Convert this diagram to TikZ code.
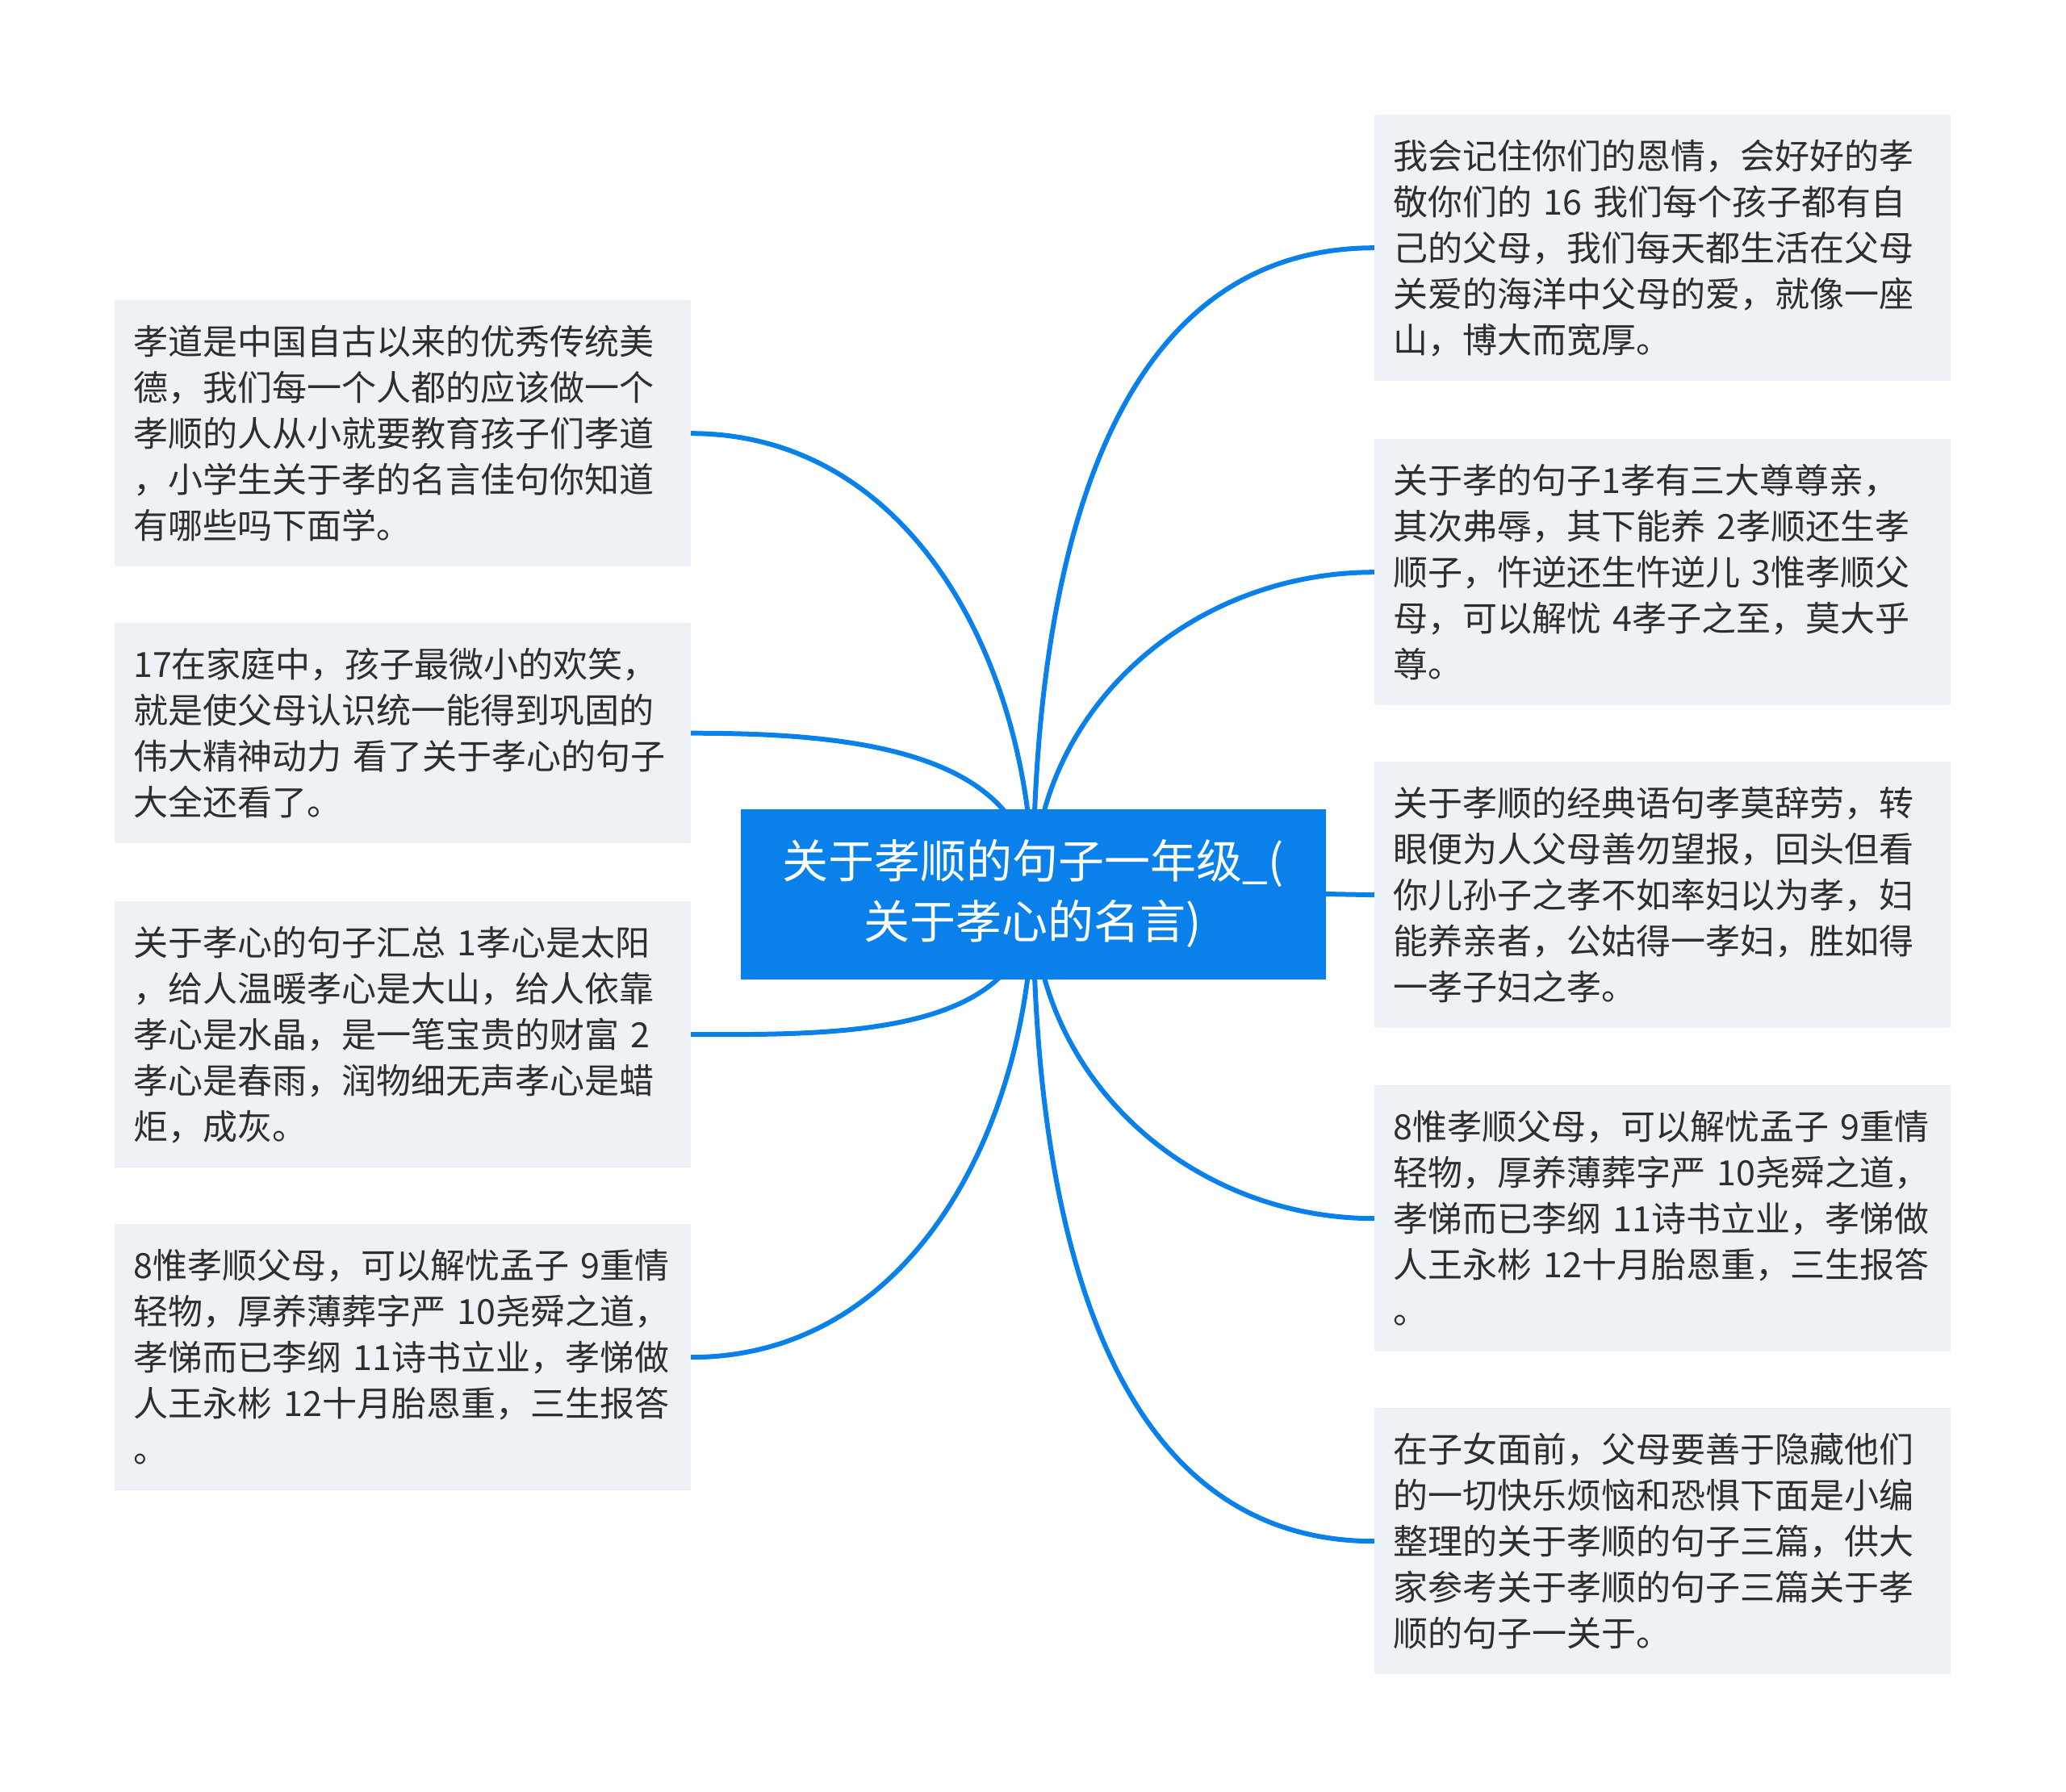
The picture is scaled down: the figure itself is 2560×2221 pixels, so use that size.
\documentclass[tikz,border=0pt]{standalone}
\usepackage{fontspec}
\setmainfont{Noto Sans CJK SC}
\usetikzlibrary{backgrounds}
\definecolor{mainblue}{HTML}{0A80EA}
\definecolor{leafgray}{HTML}{EEF1F5}
\definecolor{textdark}{HTML}{2E2E2E}
\tikzset{
  leaf/.style={fill=leafgray, anchor=north west, minimum width=713.5pt,
    text width=667.5pt, inner xsep=23pt, inner ysep=0pt, align=left,
    text=textdark, font=\fontsize{43pt}{57pt}\selectfont},
  tall/.style={minimum height=330pt},
  short/.style={minimum height=273pt},
  hub/.style={fill=mainblue, text=white, minimum width=725pt, minimum height=211pt,
    inner sep=0pt, align=center, font=\fontsize{57pt}{75pt}\selectfont},
  conn/.style={draw=mainblue, line width=6pt}
}
\begin{document}
\begin{tikzpicture}[x=1pt,y=1pt]
\useasboundingbox (0,0) rectangle (2560,-2221);
\node[hub] (c) at (1280,-1108) {关于孝顺的句子一年级\_(\\关于孝心的名言)};
% left
\node[leaf,tall] (l1) at (142,-372) {孝道是中国自古以来的优秀传统美\\德，我们每一个人都的应该做一个\\孝顺的人从小就要教育孩子们孝道\\，小学生关于孝的名言佳句你知道\\有哪些吗下面学。};
\node[leaf,short] (l2) at (142,-772) {17在家庭中，孩子最微小的欢笑，\\就是使父母认识统一能得到巩固的\\伟大精神动力~看了关于孝心的句子\\大全还看了。};
\node[leaf,tall] (l3) at (142,-1117) {关于孝心的句子汇总~1孝心是太阳\\，给人温暖孝心是大山，给人依靠\\孝心是水晶，是一笔宝贵的财富~2\\孝心是春雨，润物细无声孝心是蜡\\炬，成灰。};
\node[leaf,tall] (l4) at (142,-1517) {8惟孝顺父母，可以解忧孟子~9重情\\轻物，厚养薄葬字严~10尧舜之道，\\孝悌而已李纲~11诗书立业，孝悌做\\人王永彬~12十月胎恩重，三生报答\\。};
% right
\node[leaf,tall] (r1) at (1703,-142) {我会记住你们的恩情，会好好的孝\\敬你们的~16~我们每个孩子都有自\\己的父母，我们每天都生活在父母\\关爱的海洋中父母的爱，就像一座\\山，博大而宽厚。};
\node[leaf,tall] (r2) at (1703,-544) {关于孝的句子1孝有三大尊尊亲，\\其次弗辱，其下能养~2孝顺还生孝\\顺子，忤逆还生忤逆儿~3惟孝顺父\\母，可以解忧~4孝子之至，莫大乎\\尊。};
\node[leaf,tall] (r3) at (1703,-944) {关于孝顺的经典语句孝莫辞劳，转\\眼便为人父母善勿望报，回头但看\\你儿孙子之孝不如率妇以为孝，妇\\能养亲者，公姑得一孝妇，胜如得\\一孝子妇之孝。};
\node[leaf,tall] (r4) at (1703,-1345) {8惟孝顺父母，可以解忧孟子~9重情\\轻物，厚养薄葬字严~10尧舜之道，\\孝悌而已李纲~11诗书立业，孝悌做\\人王永彬~12十月胎恩重，三生报答\\。};
\node[leaf,tall] (r5) at (1703,-1745) {在子女面前，父母要善于隐藏他们\\的一切快乐烦恼和恐惧下面是小编\\整理的关于孝顺的句子三篇，供大\\家参考关于孝顺的句子三篇关于孝\\顺的句子一关于。};
\begin{scope}[on background layer]
\draw[conn] (c.center) to[out=90,in=0] (l1.east);
\draw[conn] (c.center) to[out=90,in=0] (l2.east);
\draw[conn] (c.center) to[out=-90,in=0] (l3.east);
\draw[conn] (c.center) to[out=-90,in=0] (l4.east);
\draw[conn] (c.center) to[out=90,in=180] (r1.west);
\draw[conn] (c.center) to[out=90,in=180] (r2.west);
\draw[conn] (c.east) -- (r3.west);
\draw[conn] (c.center) to[out=-90,in=180] (r4.west);
\draw[conn] (c.center) to[out=-90,in=180] (r5.west);
\end{scope}
\end{tikzpicture}
\end{document}
